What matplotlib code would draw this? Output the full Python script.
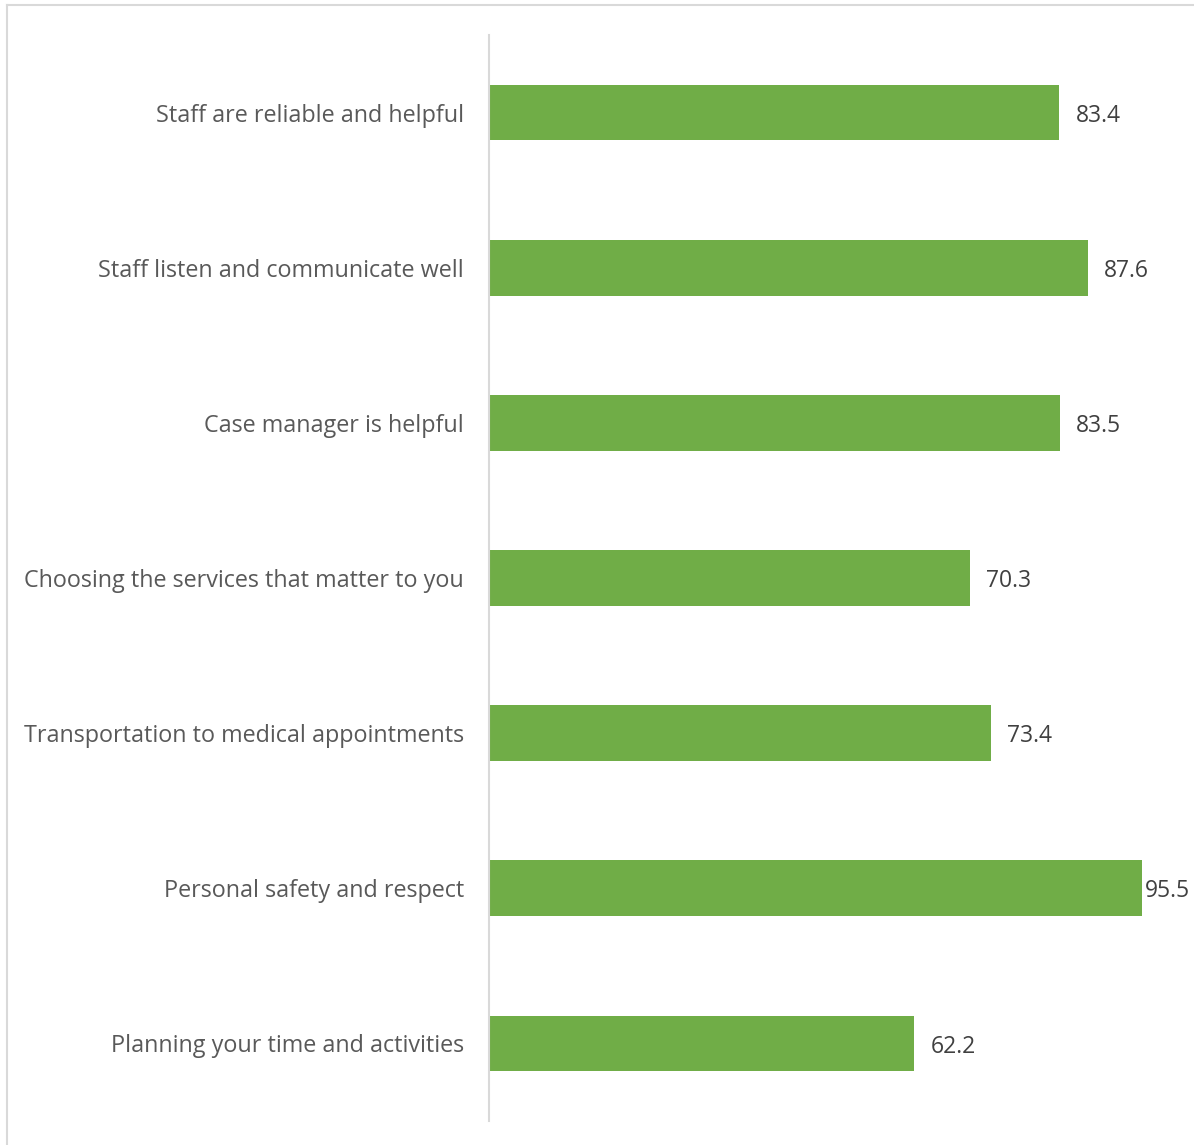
import matplotlib.pyplot as plt
from matplotlib.lines import Line2D

categories = [
    "Staff are reliable and helpful",
    "Staff listen and communicate well",
    "Case manager is helpful",
    "Choosing the services that matter to you",
    "Transportation to medical appointments",
    "Personal safety and respect",
    "Planning your time and activities",
]
scores = [83.4, 87.6, 83.5, 70.3, 73.4, 95.5, 62.2]

plt.rcParams["font.family"] = ["Open Sans", "DejaVu Sans"]

fig = plt.figure(figsize=(11.94, 11.45), dpi=100)
ax = fig.add_axes([489 / 1194, 1 - 1121 / 1145, 684 / 1194, 1086 / 1145])

pos = list(range(len(categories)))
ax.barh(pos, scores, height=0.36, color="#70AD47")
ax.set_ylim(len(categories) - 0.5, -0.5)
ax.set_xlim(0, 100)

# value labels sit just past the bar end, pulled back if they would run off the right edge
for y, v in zip(pos, scores):
    ax.text(min(v + 2.35, 95.9), y + 0.02, f"{v:.1f}", va="center", ha="left",
            fontsize=16.5, color="#404040", clip_on=False)

ax.set_yticks(pos)
ax.set_yticklabels(categories, fontsize=16.8, color="#595959")
ax.tick_params(axis="y", length=0, pad=18)
ax.set_xticks([])
for side in ["top", "right", "bottom"]:
    ax.spines[side].set_visible(False)
ax.spines["left"].set_color("#d9d9d9")
ax.spines["left"].set_linewidth(1.5)

# chart area outline (top and left edges only show)
fig.add_artist(Line2D([7 / 1194, 7 / 1194], [0, 1 - 5 / 1145],
                      transform=fig.transFigure, color="#d9d9d9", lw=1.5))
fig.add_artist(Line2D([7 / 1194, 1], [1 - 5 / 1145, 1 - 5 / 1145],
                      transform=fig.transFigure, color="#d9d9d9", lw=1.5))

fig.savefig("out.png", dpi=100)
